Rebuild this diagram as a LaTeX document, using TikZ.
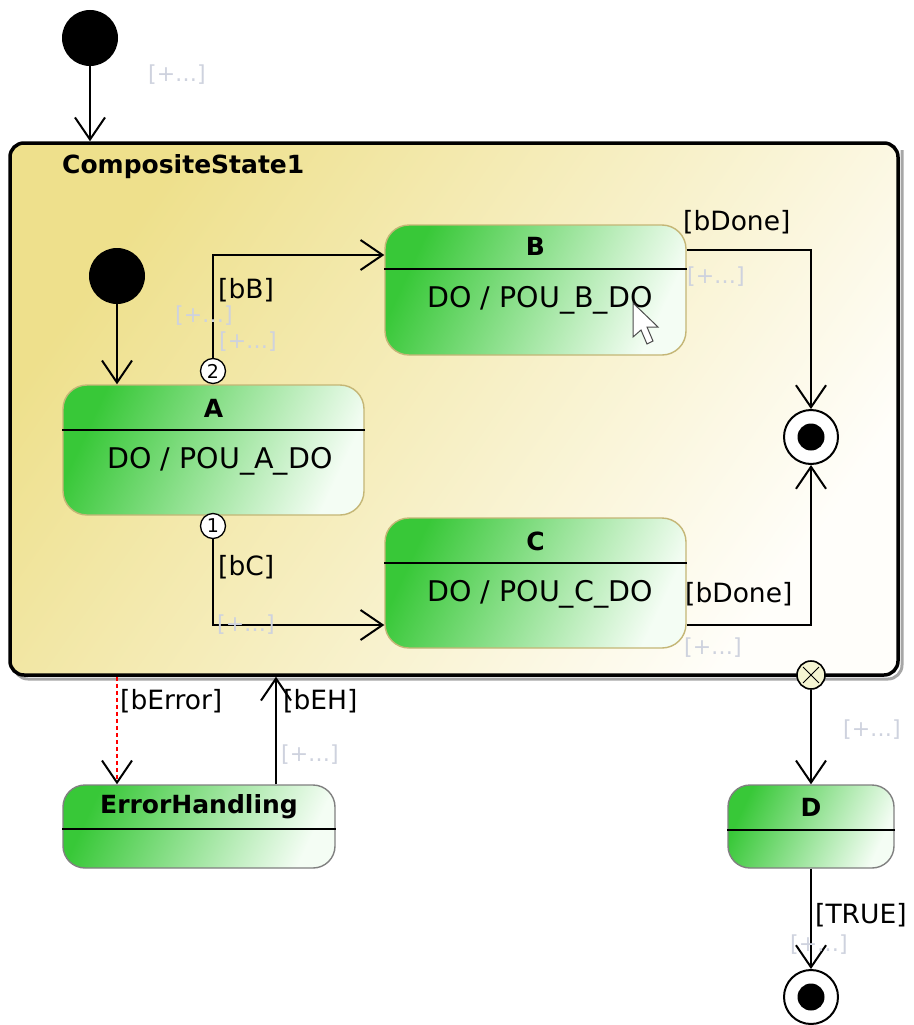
\documentclass[tikz,border=0pt]{standalone}
\usepackage{fontspec}
\setmainfont{DejaVu Sans}
\usetikzlibrary{arrows.meta,calc}
\definecolor{sgreen}{RGB}{56,200,56}
\definecolor{swhite}{RGB}{244,253,244}
\definecolor{cyellow}{RGB}{238,224,140}
\definecolor{cwhite}{RGB}{255,254,250}
\definecolor{sborder}{RGB}{196,182,118}
\definecolor{gborder}{RGB}{128,128,128}
\definecolor{hint}{RGB}{206,210,222}
\definecolor{exitfill}{RGB}{245,245,210}
\newcommand\lblfont{\fontsize{26.5}{30}\selectfont}
\newcommand\bodyfont{\fontsize{28.5}{32}\selectfont}
\newcommand\ttlfont{\fontsize{25}{29}\selectfont\bfseries}
\newcommand\hintfont{\fontsize{22}{26}\selectfont\color{hint}}
\begin{document}
\begin{tikzpicture}[x=1pt,y=-1pt,
  tr/.style={line width=2pt,-{Straight Barb[length=22pt,width=30pt]}},
  stbox/.style={rectangle,rounded corners=24pt,line width=1.4pt,draw=sborder,
    left color=sgreen,right color=swhite,shading angle=65,
    minimum width=301pt,minimum height=130pt,inner sep=0pt},
  smallbox/.style={stbox,draw=gborder,minimum height=83pt,rounded corners=22pt},
  divider/.style={line width=2.2pt},
  lbl/.style={anchor=west,font=\lblfont,inner sep=0pt},
  hintlbl/.style={anchor=west,font=\hintfont,inner sep=0pt},
  ttl/.style={font=\ttlfont,inner sep=0pt},
  body/.style={font=\bodyfont,inner sep=0pt},
  initial/.style={circle,fill=black,minimum size=56pt,inner sep=0pt},
  finalring/.style={circle,draw=black,line width=2pt,fill=white,minimum size=54pt,inner sep=0pt},
  finaldot/.style={circle,fill=black,minimum size=27pt,inner sep=0pt},
  choice/.style={circle,draw=black,line width=1.3pt,fill=white,minimum size=25pt,inner sep=0pt,font=\fontsize{19}{21}\selectfont}
]
\useasboundingbox (0,0) rectangle (913,1025);

% composite state
\draw[black!35,line width=3pt,rounded corners=14pt] (14,660) -- (14,679) -- (902,679) -- (902,150);
\node[rectangle,rounded corners=14pt,line width=3.5pt,draw=black,
  left color=cyellow,right color=cwhite,shading angle=55,
  minimum width=888pt,minimum height=532pt,inner sep=0pt] (comp) at (454,409) {};
\node[ttl,anchor=west] (ctitle) at (62,167) {CompositeState1};

% top initial
\node[initial] (init1) at (90,38) {};
\draw[tr] (init1) -- (init1 |- comp.north);
\node[hintlbl] (h0) at (148,75) {[+…]};

% inner initial
\node[initial] (init2) at (117,276) {};

% state A
\node[stbox] (A) at (213.5,450) {};
\draw[divider] (A.west |- 0,430) -- (A.east |- 0,430);
\node[ttl] (At) at (213.5,408) {A};
\node[body] (Ab) at (220,461) {DO / POU\_A\_DO};
\draw[tr] (init2) -- (init2 |- A.north);

% state B
\node[stbox] (B) at (535.5,290) {};
\draw[divider] (B.west |- 0,269) -- (B.east |- 0,269);
\node[ttl] (Bt) at (535.5,246) {B};
\node[body] (Bb) at (540,300) {DO / POU\_B\_DO};

% state C
\node[stbox] (C) at (535.5,583) {};
\draw[divider] (C.west |- 0,563) -- (C.east |- 0,563);
\node[ttl] (Ct) at (535.5,541) {C};
\node[body] (Cb) at (540,594) {DO / POU\_C\_DO};

% choice points
\node[choice] (p2) at (213,371) {2};
\node[choice] (p1) at (213,526) {1};

% inner final
\node[finalring] (fin1) at (811,437) {};
\node[finaldot] (fin1d) at (fin1) {};

% transitions inside
\draw[tr] (p2.north) |- ([yshift=35pt]B.west);
\node[lbl] (lbB) at (218,290) {[bB]};
\node[hintlbl] (hB1) at (175,316) {[+…]};
\node[hintlbl] (hB2) at (219,342) {[+…]};

\draw[tr] (p1.south) |- ([yshift=-42pt]C.west);
\node[lbl] (lbC) at (218,567) {[bC]};
\node[hintlbl] (hC) at (217,625) {[+…]};

\draw[tr] ([yshift=40pt]B.east) -| (fin1.north);
\node[lbl] (lbD1) at (683,222) {[bDone]};
\node[hintlbl] (hD1) at (687,277) {[+…]};

\draw[tr] ([yshift=-42pt]C.east) -| (fin1.south);
\node[lbl] (lbD2) at (685,594) {[bDone]};
\node[hintlbl] (hD2) at (684,648) {[+…]};

% mouse cursor
\draw[fill=white,draw=black!70,line width=1pt,shift={(633,303)}]
  (0,0) -- (0,34) -- (8,27) -- (14,41) -- (20,38) -- (14,24) -- (25,24) -- cycle;

% exit point
\node[circle,draw=black,line width=1.6pt,fill=exitfill,minimum size=28pt,inner sep=0pt] (exit) at (811,675) {};
\draw[line width=1pt] ($(exit.north east)!0.12!(exit.south west)$) -- ($(exit.south west)!0.12!(exit.north east)$);
\draw[line width=1pt] ($(exit.north west)!0.12!(exit.south east)$) -- ($(exit.south east)!0.12!(exit.north west)$);

% ErrorHandling
\node[smallbox,minimum width=272pt] (EH) at (199,826.5) {};
\draw[divider] (EH.west |- 0,829) -- (EH.east |- 0,829);
\node[ttl] (EHt) at (199,807) {ErrorHandling};

% D
\node[smallbox,minimum width=166pt] (D) at (811,826.5) {};
\draw[divider] (D.west |- 0,830) -- (D.east |- 0,830);
\node[ttl] (Dt) at (811,807) {D};

% final bottom
\node[finalring] (fin2) at (811,997) {};
\node[finaldot] (fin2d) at (fin2) {};

% bottom transitions
\draw[red,line width=1.6pt,dash pattern=on 4pt off 3pt,
  -{Straight Barb[length=22pt,width=30pt,color=black,line width=2pt]}]
  ([xshift=-82pt]EH.north |- comp.south) -- ([xshift=-82pt]EH.north);
\node[lbl] (lbE) at (120,701) {[bError]};

\draw[tr] ([xshift=77pt]EH.north) -- ([xshift=77pt]EH.north |- comp.south);
\node[lbl] (lbEH) at (283,701) {[bEH]};
\node[hintlbl] (hEH) at (281,755) {[+…]};

\draw[tr] (exit.south) -- (exit.south |- D.north);
\node[hintlbl] (hX) at (843,730) {[+…]};

\draw[tr] (fin2 |- D.south) -- (fin2.north);
\node[lbl] (lbT) at (815,915) {[TRUE]};
\node[hintlbl] (hT) at (790,945) {[+…]};
\end{tikzpicture}
\end{document}
